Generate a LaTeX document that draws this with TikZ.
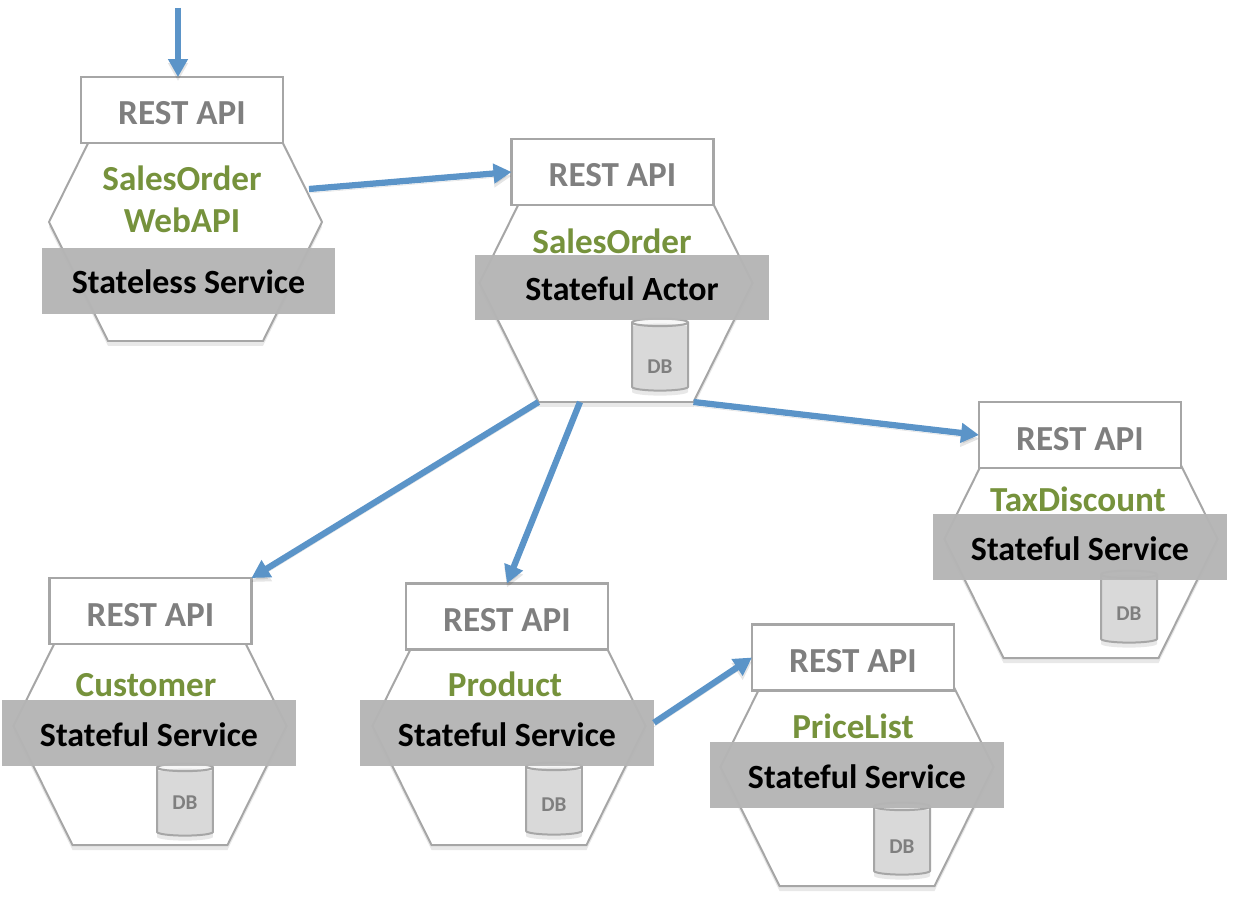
\documentclass[tikz,border=0pt]{standalone}
\usepackage{fontspec}
\setmainfont{Carlito}
\usetikzlibrary{arrows.meta,shapes.geometric,shadows}

\definecolor{flowblue}{HTML}{5B94C8}
\definecolor{namegreen}{HTML}{76923C}
\definecolor{restgray}{HTML}{7F7F7F}
\definecolor{bandgray}{HTML}{B5B5B5}
\definecolor{edgegray}{HTML}{A6A6A6}

\tikzset{
  softshadow/.style={drop shadow={opacity=.18,shadow xshift=0cm,shadow yshift=-.1cm}},
  hexa/.style={draw=edgegray,line width=.04cm,fill=white,softshadow},
  restbox/.style={rectangle,draw=edgegray,line width=.05cm,fill=white,anchor=base,inner sep=0pt,outer sep=0pt,
    minimum width=4.04cm,text height=.96cm,text depth=.36cm,text=restgray,font=\bfseries\fontsize{20}{20}\selectfont},
  band/.style={rectangle,fill=bandgray,fill opacity=.97,text opacity=1,anchor=base,inner sep=0pt,outer sep=0pt,
    minimum width=5.88cm,text height=.92cm,text depth=.40cm,text=black,font=\bfseries\fontsize{19.3}{20}\selectfont},
  svcname/.style={anchor=base,inner sep=0pt,align=center,text=namegreen,font=\bfseries\fontsize{20}{24}\selectfont},
  dbcyl/.style={cylinder,shape border rotate=90,aspect=.3,draw=edgegray,line width=.04cm,
    cylinder uses custom fill,cylinder body fill=black!7,cylinder end fill=black!3,
    minimum width=1.12cm,minimum height=1.44cm,inner sep=0pt,text=restgray,softshadow,
    text depth=0pt,font=\bfseries\fontsize{12}{14}\selectfont},
  flow/.style={draw=flowblue,line width=.125cm,-{Triangle[length=.36cm,width=.38cm]},
    preaction={draw=black,opacity=.1,transform canvas={yshift=-.08cm}}}
}

% service hexagon: name, centre x, centre y
\newcommand{\hexagon}[3]{
  \draw[hexa] (#2,#3) ++(-136.5,0) -- ++(59,-119) -- ++(155,0) -- ++(59,119)
    -- ++(-59,119) coordinate (#1SE) -- ++(-155,0) coordinate (#1SW) -- cycle;
}

\begin{document}
\begin{tikzpicture}[x=.02cm,y=-.02cm]
\useasboundingbox (0,0) rectangle (1238,902);

% hexagons
\hexagon{hexWeb}{185.5}{222}
\hexagon{hexOrder}{616}{283}
\hexagon{hexTax}{1081}{539}
\hexagon{hexCust}{150}{726}
\hexagon{hexProd}{509}{726}
\hexagon{hexPrice}{857}{767}

% databases
\node[dbcyl,text height=.67cm] (dbOrder) at (660,357) {DB};
\node[dbcyl,text height=.47cm] (dbTax) at (1129,609) {DB};
\node[dbcyl,text height=.31cm] (dbCust) at (185,802) {DB};
\node[dbcyl,text height=.43cm] (dbProd) at (554,801) {DB};
\node[dbcyl,text height=.51cm] (dbPrice) at (902,841) {DB};

% grey bands
\node[band] (bandWeb) at (188.5,294) {Stateless Service};
\node[band] (bandOrder) at (622,300.5) {Stateful Actor};
\node[band] (bandTax) at (1080,560) {Stateful Service};
\node[band] (bandCust) at (149,746) {Stateful Service};
\node[band] (bandProd) at (507,746) {Stateful Service};
\node[band] (bandPrice) at (857,788) {Stateful Service};

% rest boxes
\node[restbox] (restWeb) at (182,125) {REST API};
\node[restbox] (restOrder) at (612.5,187) {REST API};
\node[restbox] (restTax) at (1080,450) {REST API};
\node[restbox] (restCust) at (150.5,626) {REST API};
\node[restbox] (restProd) at (507,631.5) {REST API};
\node[restbox] (restPrice) at (853,672.5) {REST API};

% service names
\node[svcname] (nameWeb) at (182,233) {SalesOrder\\WebAPI};
\node[svcname] (nameOrder) at (612,254) {SalesOrder};
\node[svcname] (nameTax) at (1078,511) {TaxDiscount};
\node[svcname] (nameCust) at (146,696) {Customer};
\node[svcname] (nameProd) at (505,696) {Product};
\node[svcname] (namePrice) at (853,738) {PriceList};

% calls
\coordinate (entry) at (178,8);
\coordinate (webOut) at (309,189);
\coordinate (orderDown) at (580,402);
\draw[flow] (entry) -- (restWeb.north -| entry);
\draw[flow] (webOut) -- (restOrder.west);
\draw[flow] (hexOrderSW) -- (restCust.north east);
\draw[flow] (orderDown) -- (restProd.north);
\draw[flow] (hexOrderSE) -- (restTax.west);
\draw[flow] (bandProd.4) -- (restPrice.west);

\end{tikzpicture}
\end{document}
